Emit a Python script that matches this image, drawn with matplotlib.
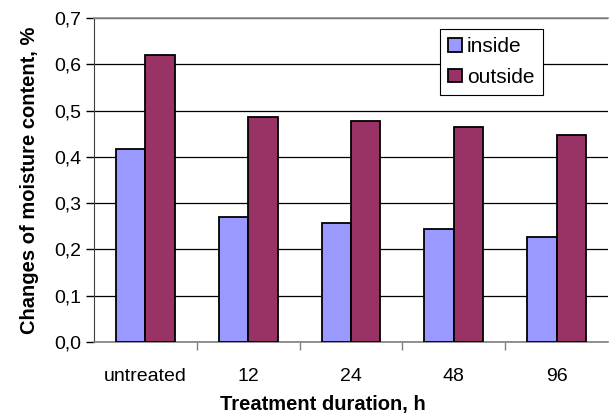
import matplotlib
matplotlib.use("Agg")
import matplotlib.pyplot as plt
import numpy as np
from matplotlib.ticker import FuncFormatter, FixedLocator

categories = ["untreated", "12", "24", "48", "96"]
inside = [0.418, 0.270, 0.258, 0.245, 0.227]
outside = [0.619, 0.487, 0.478, 0.465, 0.447]

plt.rcParams['font.family'] = ['Liberation Sans', 'DejaVu Sans']

fig = plt.figure(figsize=(6.09, 4.19), dpi=100)
ax = fig.add_axes([94/609, 1-342/419, (608-94)/609, (342-18)/419])

x = np.arange(len(categories))
w = 0.286
ax.bar(x - w/2, inside, w, color="#9999FF", edgecolor="black", linewidth=1.3, label="inside", zorder=3)
ax.bar(x + w/2, outside, w, color="#993366", edgecolor="black", linewidth=1.3, label="outside", zorder=3)

ax.set_xlim(-0.5, len(categories) - 0.5)
ax.set_ylim(0, 0.7)
ax.set_yticks(np.arange(0, 0.71, 0.1))
ax.yaxis.set_major_formatter(FuncFormatter(lambda v, p: f"{v:.1f}".replace(".", ",")))
ax.yaxis.grid(True, color="black", linewidth=0.9, zorder=0)
ax.set_axisbelow(True)

ax.set_xticks(x)
ax.set_xticklabels(categories)
ax.xaxis.set_minor_locator(FixedLocator(np.arange(0.5, len(categories) - 0.5, 1)))
ax.tick_params(axis="x", which="major", length=0, pad=19, labelsize=14)
ax.tick_params(axis="x", which="minor", length=6, width=1, color="#808080", direction="out")
ax.tick_params(axis="y", length=6, width=1, direction="out", labelsize=14, pad=3)

ax.spines["right"].set_visible(False)
ax.spines["top"].set_color("#909090")
ax.spines["top"].set_linewidth(1.2)
ax.spines["left"].set_color("#404040")
ax.spines["bottom"].set_color("#808080")
ax.spines["bottom"].set_linewidth(1.2)

ax.set_xlabel("Treatment duration, h", fontsize=14.5, fontweight="bold")
ax.xaxis.set_label_coords((323-94)/514, -(395-342)/324)
ax.set_ylabel("Changes of moisture content, %", fontsize=14.5, fontweight="bold", labelpad=11)

leg = ax.legend(loc="upper left", bbox_to_anchor=((440-94)/514, 1-(29-18)/324), fontsize=15,
                frameon=True, fancybox=False, edgecolor="black", framealpha=1,
                handlelength=0.65, handleheight=0.65, handletextpad=0.25, borderpad=0.4,
                labelspacing=0.55, borderaxespad=0)
leg.get_frame().set_linewidth(0.8)

fig.savefig("out.png", dpi=100)
